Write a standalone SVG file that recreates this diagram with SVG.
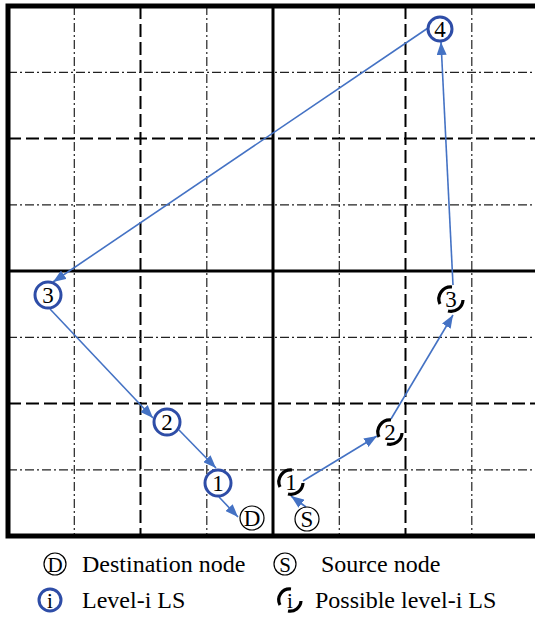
<svg xmlns="http://www.w3.org/2000/svg" width="535" height="617" viewBox="0 0 535 617">
<style>
.dash{stroke:#000;stroke-width:2;stroke-dasharray:13 5;fill:none}
.dd{stroke:#222;stroke-width:1.2;stroke-dasharray:9 3 2 3;fill:none}
.mid{stroke:#000;stroke-width:3;fill:none}
.arr{stroke:#4472C4;stroke-width:1.6;fill:none;marker-end:url(#ah)}
.ls{fill:#fff;stroke:#2E4DA7;stroke-width:3}
.pls{fill:none;stroke:#000;stroke-width:3.2}
.plsbg{fill:#fff;stroke:none}
.end{fill:#fff;stroke:#000;stroke-width:1.2}
text{font-family:"Liberation Serif","Times New Roman",serif;fill:#000}
.num{font-size:23px;text-anchor:middle}
.lg{font-size:24px}
.ic{font-size:21px;text-anchor:middle}
</style>
<defs>
<marker id="ah" markerUnits="userSpaceOnUse" markerWidth="13" markerHeight="10" viewBox="0 0 13 10" refX="13" refY="5" orient="auto">
<path d="M0,0 L13,5 L0,10 Z" fill="#4472C4"/>
</marker>
</defs>
<rect width="535" height="617" fill="#fff"/>
<g id="grid">
<line class="dd" x1="74.3" y1="6" x2="74.3" y2="536"/>
<line class="dash" x1="140.5" y1="6" x2="140.5" y2="536"/>
<line class="dd" x1="206.8" y1="6" x2="206.8" y2="536"/>
<line class="dd" x1="339.3" y1="6" x2="339.3" y2="536"/>
<line class="dash" x1="405.5" y1="6" x2="405.5" y2="536"/>
<line class="dd" x1="471.8" y1="6" x2="471.8" y2="536"/>
<line class="dd" x1="8" y1="72.3" x2="538" y2="72.3"/>
<line class="dash" x1="8" y1="138.5" x2="538" y2="138.5"/>
<line class="dd" x1="8" y1="204.8" x2="538" y2="204.8"/>
<line class="dd" x1="8" y1="337.3" x2="538" y2="337.3"/>
<line class="dash" x1="8" y1="403.5" x2="538" y2="403.5"/>
<line class="dd" x1="8" y1="469.8" x2="538" y2="469.8"/>
<line class="mid" x1="273" y1="6" x2="273" y2="536"/>
<line class="mid" x1="8" y1="271" x2="538" y2="271"/>
<rect x="8" y="6" width="530" height="530" fill="none" stroke="#000" stroke-width="5"/>
</g>
<g id="connectors">
<line class="arr" x1="306" y1="507" x2="291" y2="496"/>
<line class="arr" x1="303" y1="481" x2="377" y2="436"/>
<line class="arr" x1="391" y1="419" x2="453" y2="315"/>
<line class="arr" x1="453" y1="285" x2="441" y2="42"/>
<line class="arr" x1="428" y1="28" x2="53" y2="282"/>
<line class="arr" x1="50" y1="309" x2="153" y2="418"/>
<line class="arr" x1="179" y1="430" x2="216" y2="468"/>
<line class="arr" x1="219" y1="497" x2="238" y2="517"/>
</g>
<g id="n4"><circle class="ls" cx="440" cy="29" r="12"/><text class="num" x="440" y="37">4</text></g>
<g id="n3"><circle class="ls" cx="48" cy="295" r="13"/><text class="num" x="48" y="303">3</text></g>
<g id="n2"><circle class="ls" cx="167" cy="422" r="13"/><text class="num" x="167" y="430">2</text></g>
<g id="n1"><circle class="ls" cx="218" cy="483" r="13"/><text class="num" x="218" y="491">1</text></g>
<g id="nD"><circle class="end" cx="252" cy="518" r="12"/><text class="num" x="252" y="526">D</text></g>
<g id="nS"><circle class="end" cx="307" cy="519" r="12"/><text class="num" x="307" y="527">S</text></g>
<g id="p1"><circle class="plsbg" cx="291" cy="482" r="11"/><path class="pls" d="M280,487 A12,12 0 0 1 292,470 M303,483 A12,12 0 0 1 288,494"/><text class="num" x="291" y="490">1</text></g>
<g id="p2"><circle class="plsbg" cx="390" cy="432" r="11"/><path class="pls" d="M379,437 A12,12 0 0 1 391,420 M402,433 A12,12 0 0 1 387,444"/><text class="num" x="390" y="440">2</text></g>
<g id="p3"><circle class="plsbg" cx="451" cy="299" r="11"/><path class="pls" d="M440,304 A12,12 0 0 1 452,287 M463,300 A12,12 0 0 1 448,311"/><text class="num" x="451" y="307">3</text></g>
<g id="legend">
<circle class="end" cx="55" cy="564" r="11"/><text class="ic" x="55" y="571.5">D</text>
<text class="lg" x="82" y="572">Destination node</text>
<circle class="end" cx="285" cy="564" r="11"/><text class="ic" x="285" y="571.5">S</text>
<text class="lg" x="321" y="572">Source node</text>
<circle fill="#fff" stroke="#2E4DA7" stroke-width="3" cx="50" cy="600" r="11"/><text class="ic" x="50" y="607.5">i</text>
<text class="lg" x="82" y="608">Level-i LS</text>
<path class="pls" d="M280,605 A11,11 0 0 1 291,589 M301,601 A11,11 0 0 1 288,611"/><text class="ic" x="290" y="607.5">i</text>
<text class="lg" x="315" y="608">Possible level-i LS</text>
</g>
</svg>
